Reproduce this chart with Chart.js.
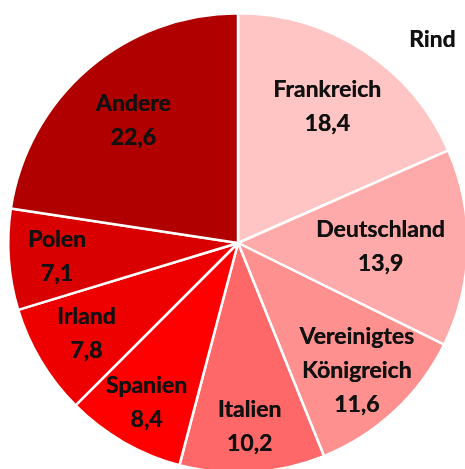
<!DOCTYPE html>
<html>
<head>
<meta charset="utf-8">
<script src="https://cdn.jsdelivr.net/npm/chart.js@4.4.0/dist/chart.umd.min.js"></script>
<style>
  html, body { margin: 0; padding: 0; background: #ffffff; overflow: hidden; width: 465px; height: 469px; }
  #wrap { position: absolute; left: 0; top: 0; width: 476px; height: 486px; }
</style>
</head>
<body>
<div id="wrap"><canvas id="c" width="476" height="486"></canvas></div>
<script>
const categories = ["Frankreich", "Deutschland", "Vereinigtes Königreich", "Italien", "Spanien", "Irland", "Polen", "Andere"];
const labelLines = [["Frankreich"], ["Deutschland"], ["Vereinigtes", "Königreich"], ["Italien"], ["Spanien"], ["Irland"], ["Polen"], ["Andere"]];
const values = [18.4, 13.9, 11.6, 10.2, 8.4, 7.8, 7.1, 22.6];
const chartTitle = "Rind";

const colors = ["#FFC5C5", "#FFAAAA", "#FF9090", "#FF6868", "#FF0000", "#EE0000", "#D80000", "#B00000"];
const labelRadiusFrac = [0.71, 0.62, 0.76, 0.80, 0.80, 0.77, 0.79, 0.70];

const labelPlugin = {
  id: 'sliceLabels',
  afterDatasetsDraw(chart) {
    const ctx = chart.ctx;
    const meta = chart.getDatasetMeta(0);
    ctx.save();
    ctx.fillStyle = '#111111';
    ctx.font = 'bold 23px Lato, "Open Sans", sans-serif';
    ctx.textAlign = 'center';
    ctx.textBaseline = 'middle';
    const lh = 34;
    meta.data.forEach((arc, i) => {
      const p = arc.getProps(['x', 'y', 'startAngle', 'endAngle', 'outerRadius'], true);
      const mid = (p.startAngle + p.endAngle) / 2;
      const r = p.outerRadius * labelRadiusFrac[i];
      const cx = p.x + Math.cos(mid) * r;
      const cy = p.y + Math.sin(mid) * r;
      const lines = labelLines[i].concat([values[i].toFixed(1).replace('.', ',')]);
      const y0 = cy - (lines.length - 1) * lh / 2;
      lines.forEach((t, k) => {
        ctx.fillText(t, cx, y0 + k * lh);
        ctx.fillText(t, cx + 0.4, y0 + k * lh);
      });
    });
    ctx.font = 'bold 23px Lato, "Open Sans", sans-serif';
    ctx.textAlign = 'left';
    ctx.fillText(chartTitle, 409, 40);
    ctx.fillText(chartTitle, 409.4, 40);
    ctx.restore();
  }
};

new Chart(document.getElementById('c'), {
  type: 'pie',
  data: {
    labels: categories,
    datasets: [{
      data: values,
      backgroundColor: colors,
      borderColor: '#ffffff',
      borderWidth: 2.5
    }]
  },
  options: {
    responsive: false,
    animation: false,
    layout: { padding: 7 },
    plugins: {
      legend: { display: false },
      tooltip: { enabled: false },
      title: { display: false }
    }
  },
  plugins: [labelPlugin]
});
</script>
</body>
</html>
